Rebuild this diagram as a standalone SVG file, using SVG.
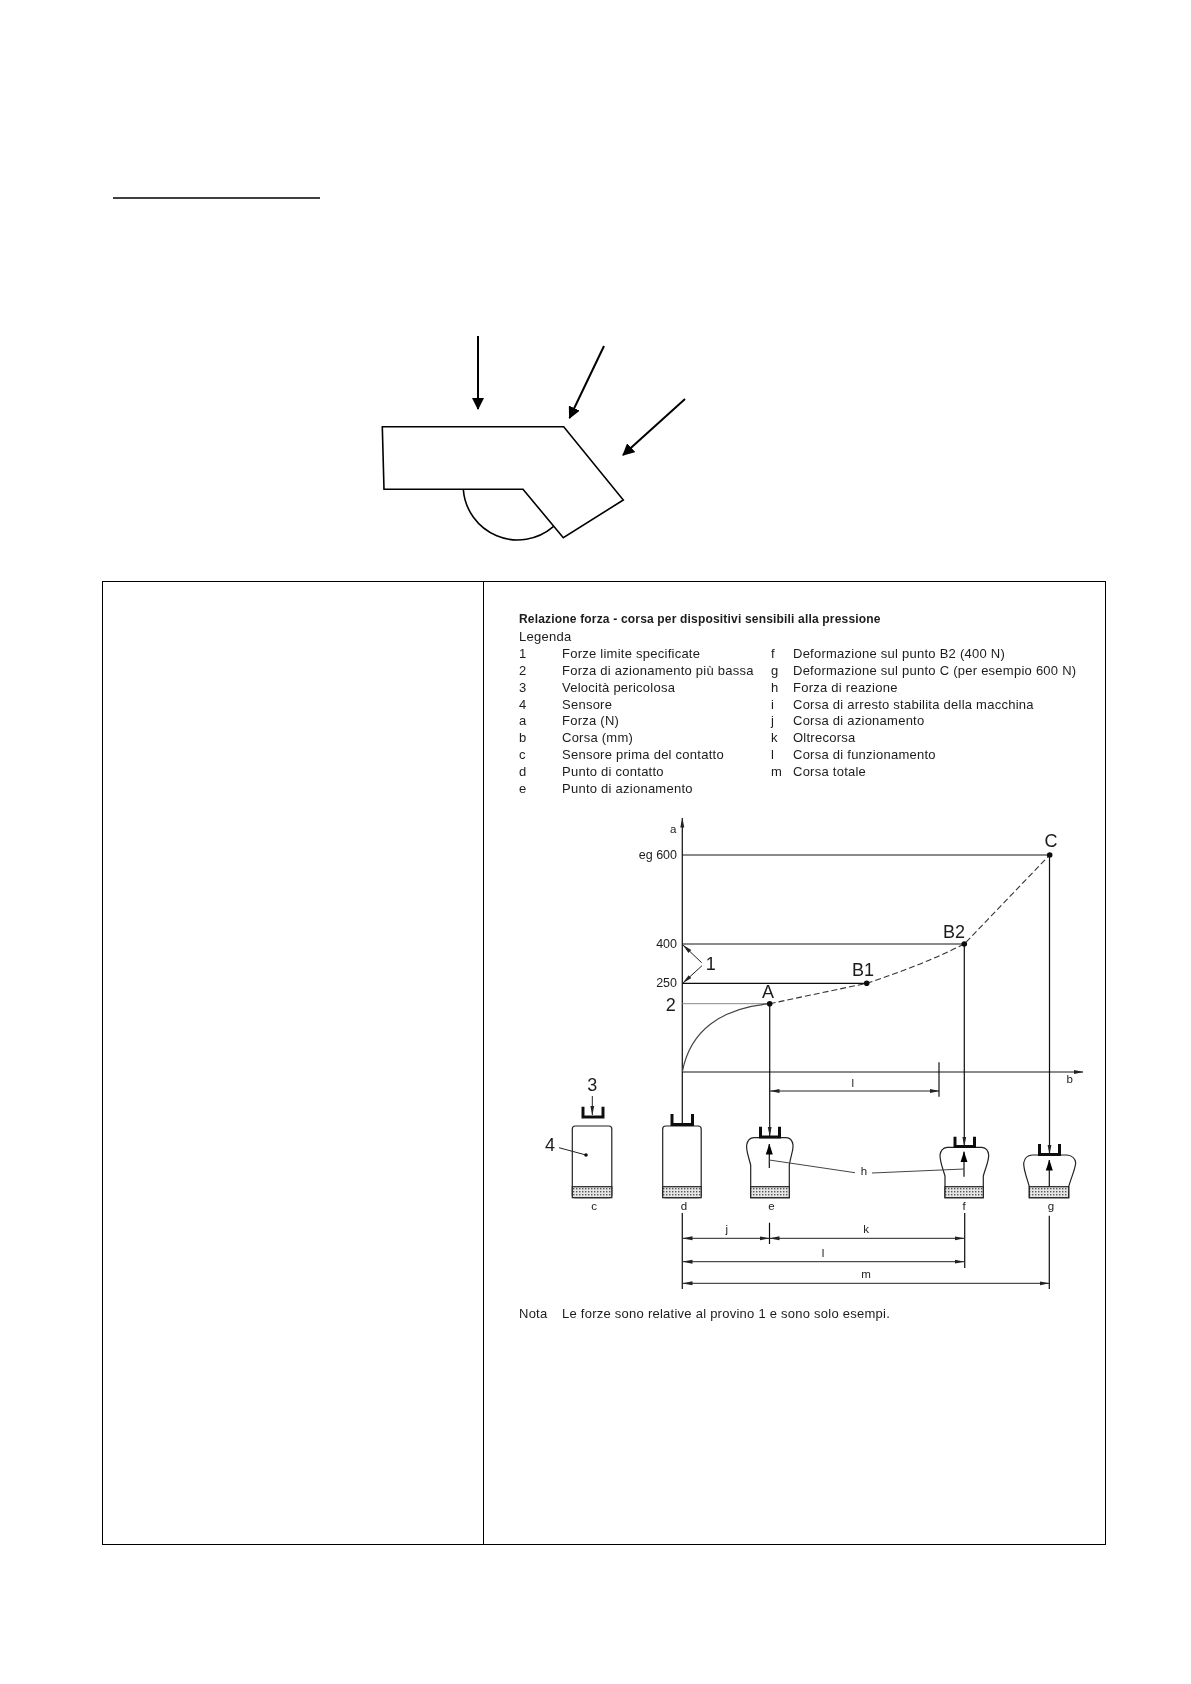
<svg xmlns="http://www.w3.org/2000/svg" width="1191" height="1684" viewBox="0 0 1191 1684">
<style>
text{font-family:"Liberation Sans",Arial,sans-serif;fill:#1c1c1c}
.t{font-size:13px;letter-spacing:.25px}
.title{font-size:12px;font-weight:bold;letter-spacing:.18px}
.s{font-size:11.500px}
.m{font-size:12.500px}
.big{font-size:18px}
.c{text-anchor:middle}
.e{text-anchor:end}
.l{fill:none;stroke:#111;stroke-width:1.2}
.thin{fill:none;stroke:#222;stroke-width:1}
.bold{fill:none;stroke:#000;stroke-width:1.6}
.shaft{fill:none;stroke:#000;stroke-width:2}
.cup{fill:none;stroke:#111;stroke-width:3}
.box{fill:#fff;stroke:#222;stroke-width:1.2}
.hatch{fill:url(#dots);stroke:#222;stroke-width:1.2}
.dash{fill:none;stroke:#333;stroke-width:1.1;stroke-dasharray:6 3}
</style>
<defs>
<filter id="soft" x="0" y="0" width="1" height="1"><feGaussianBlur stdDeviation="0.35"/></filter>
<marker id="big" markerWidth="12" markerHeight="12" refX="11" refY="6" orient="auto" markerUnits="userSpaceOnUse"><path d="M0 0L12 6L0 12z" fill="#000"/></marker>
<marker id="tri" markerWidth="10" markerHeight="6" refX="9.500" refY="3" orient="auto" markerUnits="userSpaceOnUse"><path d="M0 1L10 3L0 5z" fill="#222"/></marker>
<marker id="tris" markerWidth="10" markerHeight="6" refX="0.500" refY="3" orient="auto" markerUnits="userSpaceOnUse"><path d="M10 1L0 3L10 5z" fill="#222"/></marker>
<marker id="up" markerWidth="11" markerHeight="8" refX="10.500" refY="4" orient="auto" markerUnits="userSpaceOnUse"><path d="M0 0.500L11 4L0 7.500z" fill="#000"/></marker>
<pattern id="dots" width="3" height="3" patternUnits="userSpaceOnUse"><rect width="3" height="3" fill="#e6e6e6"/><rect width="1.400" height="1.400" fill="#555"/></pattern>
</defs>
<line id="underline" x1="113" y1="198" x2="320" y2="198" stroke="#000" stroke-width="1.400"/>

<g id="device">
<path class="bold" stroke-width="1.300" d="M463.300 489.300A54.500 54.500 0 0 0 553.300 526.700"/>
<path class="bold" d="M382.300 426.700H563.700L623.300 500L563.300 537.700L523 489.300H384Z"/>
</g>
<g id="force-arrows">
<line class="shaft" x1="478" y1="336" x2="478" y2="409" marker-end="url(#big)"/>
<line class="shaft" x1="604" y1="346" x2="569.500" y2="418" marker-end="url(#big)"/>
<line class="shaft" x1="685" y1="399" x2="623" y2="455" marker-end="url(#big)"/>
</g>

<g id="table" fill="none" stroke="#000" stroke-width="1">
<rect x="102.500" y="581.500" width="1003" height="963"/>
<line x1="483.500" y1="581.500" x2="483.500" y2="1544.500"/>
</g>

<g id="inset" filter="url(#soft)">
<rect x="490" y="600" width="610" height="740" fill="#fff" fill-opacity="0"/>
<g id="legend">
<text class="title" x="519" y="623">Relazione forza - corsa per dispositivi sensibili alla pressione</text>
<text class="t" x="519" y="641">Legenda</text>
<text class="t" x="519" y="658">1</text><text class="t" x="562" y="658">Forze limite specificate</text>
<text class="t" x="519" y="675">2</text><text class="t" x="562" y="675">Forza di azionamento più bassa</text>
<text class="t" x="519" y="692">3</text><text class="t" x="562" y="692">Velocità pericolosa</text>
<text class="t" x="519" y="709">4</text><text class="t" x="562" y="709">Sensore</text>
<text class="t" x="519" y="725">a</text><text class="t" x="562" y="725">Forza (N)</text>
<text class="t" x="519" y="742">b</text><text class="t" x="562" y="742">Corsa (mm)</text>
<text class="t" x="519" y="759">c</text><text class="t" x="562" y="759">Sensore prima del contatto</text>
<text class="t" x="519" y="776">d</text><text class="t" x="562" y="776">Punto di contatto</text>
<text class="t" x="519" y="793">e</text><text class="t" x="562" y="793">Punto di azionamento</text>
<text class="t" x="771" y="658">f</text><text class="t" x="793" y="658">Deformazione sul punto B2 (400 N)</text>
<text class="t" x="771" y="675">g</text><text class="t" x="793" y="675">Deformazione sul punto C (per esempio 600 N)</text>
<text class="t" x="771" y="692">h</text><text class="t" x="793" y="692">Forza di reazione</text>
<text class="t" x="771" y="709">i</text><text class="t" x="793" y="709">Corsa di arresto stabilita della macchina</text>
<text class="t" x="771" y="725">j</text><text class="t" x="793" y="725">Corsa di azionamento</text>
<text class="t" x="771" y="742">k</text><text class="t" x="793" y="742">Oltrecorsa</text>
<text class="t" x="771" y="759">l</text><text class="t" x="793" y="759">Corsa di funzionamento</text>
<text class="t" x="771" y="776">m</text><text class="t" x="793" y="776">Corsa totale</text>
</g>

<g id="sensor-c">
<rect class="box" x="572.300" y="1126" width="39.500" height="71.700" rx="3"/>
<rect class="hatch" x="572.300" y="1186.700" width="39.500" height="11"/>
<path class="cup" d="M583 1106.700V1117H603V1106.700"/>
<line class="thin" x1="559" y1="1147.700" x2="586" y2="1155"/>
<circle cx="586" cy="1155" r="1.800" fill="#111"/>
<text class="s c" x="594" y="1210">c</text>
</g>
<g id="sensor-d">
<rect class="box" x="662.700" y="1126" width="38.500" height="71.700" rx="3"/>
<rect class="hatch" x="662.700" y="1186.700" width="38.500" height="11"/>
<path class="cup" d="M672 1114V1124.500H692.500V1114"/>
<text class="s c" x="684" y="1210">d</text>
</g>
<g id="sensor-e">
<path class="box" d="M750.700 1197.700V1165C748 1155 746 1150 746.700 1145Q748 1138 754 1137.700H786Q792 1138 793 1145C793.500 1150 791 1155 789.300 1165V1197.700Z"/>
<rect class="hatch" x="750.700" y="1186.700" width="38.600" height="11"/>
<path class="cup" d="M760.500 1126.700V1137H779.500V1126.700"/>
<text class="s c" x="771.500" y="1210">e</text>
</g>
<g id="sensor-f">
<path class="box" d="M945 1197.700V1176C942 1166 940 1162 940 1155Q941 1148 947 1147.300H982Q988 1148 988.700 1155C988.700 1162 986 1166 983.300 1176V1197.700Z"/>
<rect class="hatch" x="945" y="1186.700" width="38.300" height="11"/>
<path class="cup" d="M955 1136.700V1146.500H974.500V1136.700"/>
<text class="s c" x="964" y="1210">f</text>
</g>
<g id="sensor-g">
<path class="box" d="M1029.300 1197.700V1186.700C1027 1178 1023.500 1170 1023.700 1163Q1025 1155.500 1032 1155H1067Q1075 1156 1075.700 1163C1075 1170 1071 1178 1068.700 1186.700V1197.700Z"/>
<rect class="hatch" x="1029.300" y="1186.700" width="39.400" height="11"/>
<path class="cup" d="M1039.500 1144V1154.500H1059.500V1144"/>
<text class="s c" x="1051" y="1210">g</text>
</g>

<g id="connectors">
<line class="l" x1="682.300" y1="1125" x2="682.300" y2="818" marker-end="url(#tri)"/>
<line class="l" x1="682" y1="1072" x2="1083" y2="1072" stroke="#444" marker-end="url(#tri)"/>
<line class="l" x1="682.300" y1="855" x2="1049.700" y2="855"/>
<line class="l" x1="682.300" y1="944" x2="964.300" y2="944"/>
<line class="l" x1="682.300" y1="983.300" x2="866.700" y2="983.300"/>
<line class="thin" style="stroke:#888" x1="682.300" y1="1003.700" x2="769.700" y2="1003.700"/>
<path class="thin" style="stroke:#444;stroke-width:1.200" d="M682.300 1072C690 1030 722 1008 769.700 1003.700"/>
<path class="dash" d="M769.700 1003.700L866.700 983.300Q920 966 964.300 944L1049.700 855"/>
<line class="l" x1="769.700" y1="1003.700" x2="769.700" y2="1136" marker-end="url(#tri)"/>
<line class="l" x1="964.300" y1="944" x2="964.300" y2="1146" marker-end="url(#tri)"/>
<line class="l" x1="1049.500" y1="855" x2="1049.500" y2="1154" marker-end="url(#tri)"/>
<line class="thin" x1="592.300" y1="1096" x2="592.300" y2="1115" marker-end="url(#tri)"/>
<line class="l" x1="769.300" y1="1168" x2="769.300" y2="1144" marker-end="url(#up)"/>
<line class="l" x1="964" y1="1176.700" x2="964" y2="1151.700" marker-end="url(#up)"/>
<line class="l" x1="1049.300" y1="1186.700" x2="1049.300" y2="1160" marker-end="url(#up)"/>
<path class="thin" style="stroke:#444" d="M769.300 1160L855 1172.700M872 1173L964 1169"/>
<line class="thin" x1="701.700" y1="962.700" x2="683" y2="945" marker-end="url(#tri)"/>
<line class="thin" x1="702" y1="965.700" x2="683" y2="983" marker-end="url(#tri)"/>
<line class="l" x1="939" y1="1062.300" x2="939" y2="1096.700"/>
<line class="thin" x1="770" y1="1091" x2="939" y2="1091" marker-start="url(#tris)" marker-end="url(#tri)"/>
<line class="l" x1="682.300" y1="1213" x2="682.300" y2="1289"/>
<line class="l" x1="769.500" y1="1222.700" x2="769.500" y2="1244"/>
<line class="l" x1="964.700" y1="1213" x2="964.700" y2="1268"/>
<line class="l" x1="1049.300" y1="1215.700" x2="1049.300" y2="1289"/>
<line class="thin" x1="683" y1="1238.300" x2="769" y2="1238.300" marker-start="url(#tris)" marker-end="url(#tri)"/>
<line class="thin" x1="770" y1="1238.300" x2="964" y2="1238.300" marker-start="url(#tris)" marker-end="url(#tri)"/>
<line class="thin" x1="683" y1="1261.700" x2="964" y2="1261.700" marker-start="url(#tris)" marker-end="url(#tri)"/>
<line class="thin" x1="683" y1="1283.300" x2="1049" y2="1283.300" marker-start="url(#tris)" marker-end="url(#tri)"/>
</g>

<g id="points" fill="#111">
<circle cx="769.700" cy="1003.700" r="2.800"/>
<circle cx="866.700" cy="983.300" r="2.800"/>
<circle cx="964.300" cy="944" r="2.800"/>
<circle cx="1049.700" cy="855" r="2.800"/>
</g>

<g id="chart-labels">
<text class="s c" x="673.300" y="832.500">a</text>
<text class="m e" x="677" y="859">eg 600</text>
<text class="m e" x="677" y="948">400</text>
<text class="m e" x="677" y="987">250</text>
<text class="big c" x="670.700" y="1011">2</text>
<text class="big c" x="710.700" y="969.500">1</text>
<text class="big c" x="768" y="998">A</text>
<text class="big c" x="863" y="976">B1</text>
<text class="big c" x="954" y="938">B2</text>
<text class="big c" x="1051" y="847">C</text>
<text class="s c" x="1069.700" y="1083">b</text>
<text class="s c" x="852.700" y="1087">l</text>
<text class="big c" x="592.300" y="1091">3</text>
<text class="big c" x="550" y="1151">4</text>
<text class="s c" x="864" y="1175">h</text>
<text class="s c" x="726.700" y="1233">j</text>
<text class="s c" x="866" y="1233">k</text>
<text class="s c" x="823" y="1257">l</text>
<text class="s c" x="866" y="1278">m</text>
</g>
<g id="note">
<text class="t" x="519" y="1318">Nota</text>
<text class="t" x="562" y="1318">Le forze sono relative al provino 1 e sono solo esempi.</text>
</g>
</g>
</svg>
